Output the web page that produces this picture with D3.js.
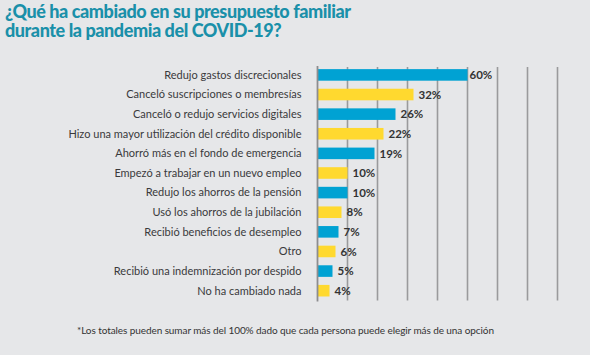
<!DOCTYPE html>
<html>
<head>
<meta charset="utf-8">
<script src="https://cdn.jsdelivr.net/npm/d3@7"></script>
<style>
  html, body { margin: 0; padding: 0; background: #e6e7e9; }
  svg { display: block; }
</style>
</head>
<body>
<svg id="chart" width="590" height="355"></svg>
<script>
const titleLines = ["¿Qué ha cambiado en su presupuesto familiar", "durante la pandemia del COVID-19?"];
const categories = [
  "Redujo gastos discrecionales",
  "Canceló suscripciones o membresías",
  "Canceló o redujo servicios digitales",
  "Hizo una mayor utilización del crédito disponible",
  "Ahorró más en el fondo de emergencia",
  "Empezó a trabajar en un nuevo empleo",
  "Redujo los ahorros de la pensión",
  "Usó los ahorros de la jubilación",
  "Recibió beneficios de desempleo",
  "Otro",
  "Recibió una indemnización por despido",
  "No ha cambiado nada"
];
const values = [60, 32, 26, 22, 19, 10, 10, 8, 7, 6, 5, 4];
const gridTicks = [0, 10, 20, 30, 40, 50, 60, 70, 80];
const footnote = "*Los totales pueden sumar más del 100% dado que cada persona puede elegir más de una opción";

const colors = ["#00a2d3", "#ffd92f"];
const svg = d3.select("#chart");

const x0 = 317.5;
// bar length scale as drawn in the reference (the 60% bar is visually shortened)
const x = d3.scaleLinear().domain([0, 40, 60]).range([x0, x0 + 120, x0 + 150]);
// grid scale: 3px per percentage point
const g = d3.scaleLinear().domain([0, 80]).range([x0, x0 + 240]);
const y = d3.scaleBand().domain(categories).range([65.2, 300.4]).paddingInner(0.41).paddingOuter(0.2);

function fitWidth(sel, target) {
  sel.each(function() {
    const w = this.getComputedTextLength();
    const n = this.textContent.length;
    if (n > 1) d3.select(this).attr("letter-spacing", ((target - w) / (n - 1)).toFixed(3));
  });
}

// title
const title = svg.append("g")
  .attr("fill", "#1a90a9")
  .attr("font-family", "Lato, sans-serif")
  .attr("font-weight", 900)
  .attr("font-size", 18);
const t1 = title.append("text").attr("x", 5).attr("y", 17.5).text(titleLines[0]);
const t2 = title.append("text").attr("x", 5).attr("y", 36.5).text(titleLines[1]);
fitWidth(t1, 346);
t2.attr("letter-spacing", t1.attr("letter-spacing"));

// gridlines
svg.append("g").selectAll("line").data(gridTicks.slice(1)).join("line")
  .attr("x1", d => g(d)).attr("x2", d => g(d))
  .attr("y1", 67).attr("y2", 300.5)
  .attr("stroke", "#9a9a9c").attr("stroke-width", 1.6);

// bars
svg.append("g").selectAll("rect").data(values).join("rect")
  .attr("x", x(0))
  .attr("y", (d, i) => y(categories[i]))
  .attr("width", d => x(d) - x(0))
  .attr("height", y.bandwidth())
  .attr("fill", (d, i) => colors[i % 2]);

// axis line
svg.append("line")
  .attr("x1", x0).attr("x2", x0).attr("y1", 66).attr("y2", 301.5)
  .attr("stroke", "#8d8d8f").attr("stroke-width", 1.8);

// category labels
svg.append("g").selectAll("text").data(categories).join("text")
  .attr("x", 301.5)
  .attr("y", d => y(d) + y.bandwidth() / 2)
  .attr("dy", "0.35em")
  .attr("text-anchor", "end")
  .attr("font-family", "Lato, 'Open Sans', sans-serif")
  .attr("font-size", 11)
  .attr("fill", "#3a3a3c")
  .text(d => d);

// value labels
svg.append("g").selectAll("text").data(values).join("text")
  .attr("x", d => x(d) + (d === 60 ? 2 : 5))
  .attr("y", (d, i) => y(categories[i]) + y.bandwidth() / 2)
  .attr("dy", "0.36em")
  .attr("font-family", "Lato, 'Open Sans', sans-serif")
  .attr("font-weight", 700)
  .attr("font-size", 11.5)
  .attr("fill", "#333")
  .text(d => d + "%");

// footnote
const fn = svg.append("text")
  .attr("x", 77).attr("y", 333.5)
  .attr("font-family", "Lato, 'Open Sans', sans-serif")
  .attr("font-size", 10)
  .attr("fill", "#333")
  .text(footnote);
fitWidth(fn, 417);
</script>
</body>
</html>
